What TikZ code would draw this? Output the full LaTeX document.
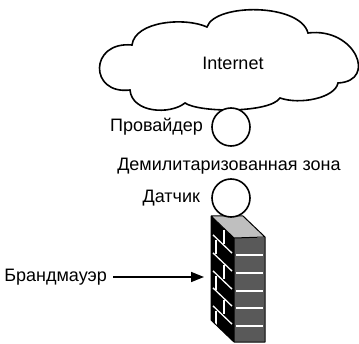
\documentclass[tikz,border=0pt]{standalone}
\usepackage{fontspec}
\setmainfont{Liberation Sans}
\usetikzlibrary{positioning, arrows.meta}

\begin{document}
\begin{tikzpicture}[x = 1pt, y = 1pt, font = \fontsize{18}{21}\selectfont,
        outline/.style = {line width = 1.6pt},
        station/.style = {outline, draw, fill = white, circle, minimum size = 38pt, inner sep = 0pt},
        caption/.style = {inner sep = 1pt},
        mortar/.style = {white, line width = 1.3pt}]
    \useasboundingbox (0, 0) rectangle (359, 343);

    % cloud
    \draw[outline, fill = white]
        (132, 298) .. controls (135, 322) and (185, 326) .. (207, 316)
        .. controls (215, 340) and (300, 340) .. (308, 310)
        .. controls (355, 316) and (378, 262) .. (338, 260)
        .. controls (335, 245) and (300, 238) .. (280, 245)
        .. controls (270, 230) and (200, 230) .. (185, 240)
        .. controls (170, 228) and (132, 230) .. (130, 253)
        .. controls (89, 248) and (89, 302) .. cycle;
    \node[caption] (inet) at (233, 280) {Internet};

    \node[station] (isp) at (231, 216) {};
    \node[caption, left = 7pt of isp] (isplabel) {Провайдер};

    \node[caption] (dmz) at (229, 177) {Демилитаризованная зона};

    % firewall
    \fill[black] (211, 127) -- (234, 105) -- (234, 1) -- (211, 23) -- cycle;
    \fill[black!25] (211, 127) -- (243, 127) -- (265, 106) -- (234, 105) -- cycle;
    \fill[black!65] (234, 105) rectangle (265, 1);
    \foreach \v in {17, 35, 53, 70, 88}
        \draw[mortar] (236, 105 - \v) -- (263, 105 - \v);
    \foreach \v in {17, 35, 53, 70, 88}
        \draw[mortar] (213, {127 - 22*2/23 - \v}) -- (232, {127 - 22*21/23 - \v});
    \foreach \v/\u in {0/13, 17/5, 35/13, 53/5, 70/13, 88/5}
        \draw[mortar] ({211 + \u}, {127 - 22*\u/23 - \v - 2}) -- ({211 + \u}, {127 - 22*\u/23 - \v - 16});
    \draw[line width = 1pt, line join = round]
        (211, 23) -- (211, 127) -- (243, 127) -- (265, 106) -- (265, 1) -- (234, 1) -- cycle
        (211, 127) -- (234, 105) -- (265, 106) (234, 105) -- (234, 1);

    \node[station] (sensor) at (231, 145) {};
    \node[caption, left = 10pt of sensor] (sensorlabel) {Датчик};

    \node[caption, anchor = east] (fwlabel) at (108, 66) {Брандмауэр};
    \coordinate (fwface) at (204, 66);
    \draw[outline, -{Triangle[length = 13pt, width = 10pt]}] ([xshift = 5pt]fwlabel.east) -- (fwface);
\end{tikzpicture}
\end{document}
